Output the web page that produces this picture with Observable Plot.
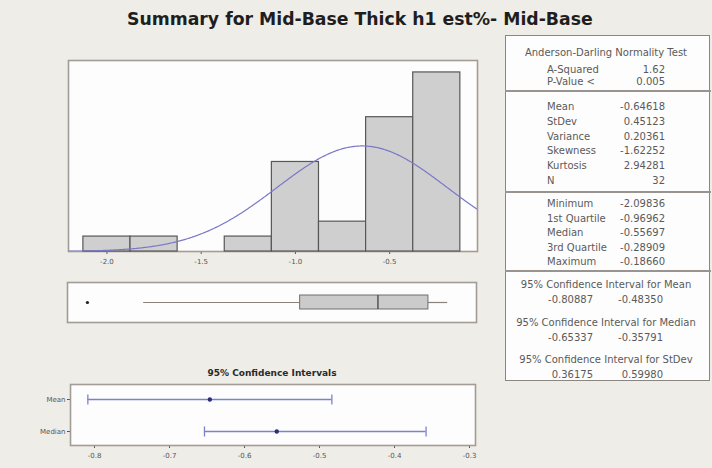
<!DOCTYPE html>
<html>
<head>
<meta charset="utf-8">
<script src="https://cdn.jsdelivr.net/npm/d3@7"></script>
<script src="https://cdn.jsdelivr.net/npm/@observablehq/plot@0.6"></script>
<style>
  html, body { margin: 0; padding: 0; background: #efede7; }
  #page { position: relative; width: 712px; height: 468px; overflow: hidden; background: #efede7; font-family: "DejaVu Sans", Verdana, sans-serif; }
  .abs { position: absolute; white-space: nowrap; }
  .t { position: absolute; white-space: nowrap; font-size: 10px; color: #5a5a5a; line-height: 1; }
  #title { position: absolute; left: 127px; top: 11px; font-weight: bold; font-size: 17px; color: #1e1e1e; white-space: nowrap; line-height: 1; }
  #table { position: absolute; left: 505px; top: 35px; width: 203px; height: 344px; background: #fdfdfd; border: 1.5px solid #8c8682; }
  .div { position: absolute; left: 505px; width: 206px; height: 2px; background: #9a9490; }
  #cititle { position: absolute; font-weight: bold; font-size: 9px; color: #2a2a2a; white-space: nowrap; line-height: 1; }
</style>
</head>
<body>
<div id="page">
  <div id="title">Summary for Mid-Base Thick h1 est%- Mid-Base</div>
  <div id="hist" class="abs" style="left:0;top:40px"></div>
  <div id="box" class="abs" style="left:0;top:276px"></div>
  <div id="cititle">95% Confidence Intervals</div>
  <div id="ci" class="abs" style="left:0;top:376px"></div>
  <div id="table"></div>
</div>
<script>
// ---------- data ----------
const binCenters = [-2.0, -1.75, -1.5, -1.25, -1.0, -0.75, -0.5, -0.25];
const binCounts  = [1, 1, 0, 1, 6, 2, 9, 12];
const binWidth = 0.25;
const meanVal = -0.64618;
const sdVal = 0.45123;
const nVal = 32;

const boxQuartiles = [-0.96962, -0.55697, -0.28909]; // Q1, median, Q3
const boxWhiskers = [-1.80, -0.18660];
const boxOutliers = [-2.09836];

const ciRows = ["Mean", "Median"];
const ciEstimates = [-0.64618, -0.55697];
const ciLower = [-0.80887, -0.65337];
const ciUpper = [-0.48350, -0.35791];

const histTicks = [-2.0, -1.5, -1.0, -0.5];
const ciTicks = [-0.8, -0.7, -0.6, -0.5, -0.4, -0.3];

const adHeader = "Anderson-Darling Normality Test";
const adLabels = ["A-Squared", "P-Value <"];
const adValues = ["1.62", "0.005"];
const momentLabels = ["Mean", "StDev", "Variance", "Skewness", "Kurtosis", "N"];
const momentValues = ["-0.64618", "0.45123", "0.20361", "-1.62252", "2.94281", "32"];
const quantLabels = ["Minimum", "1st Quartile", "Median", "3rd Quartile", "Maximum"];
const quantValues = ["-2.09836", "-0.96962", "-0.55697", "-0.28909", "-0.18660"];
const ciHeaders = ["95% Confidence Interval for Mean", "95% Confidence Interval for Median", "95% Confidence Interval for StDev"];
const ciLoText = ["-0.80887", "-0.65337", "0.36175"];
const ciHiText = ["-0.48350", "-0.35791", "0.59980"];

// ---------- helpers ----------
const fmt1 = d => d.toFixed(1);
const histDomain = [-2.204, -0.034];
const frameStyle = {fill: "#fdfdfd", stroke: "#a39b95", strokeWidth: 1.6};
const axisStyle = {background: "transparent", fontSize: "7px", color: "#555", fontFamily: "DejaVu Sans, sans-serif", overflow: "visible"};

// ---------- histogram ----------
const bins = binCenters.map((c, i) => ({x1: c - binWidth / 2, x2: c + binWidth / 2, count: binCounts[i]})).filter(d => d.count > 0);
const scaleK = nVal * binWidth;
const curve = d3.range(histDomain[0], histDomain[1] + 0.001, 0.005).map(x => ({
  x, y: scaleK * Math.exp(-0.5 * ((x - meanVal) / sdVal) ** 2) / (sdVal * Math.sqrt(2 * Math.PI))
}));

const hist = Plot.plot({
  width: 490, height: 230,
  marginLeft: 68, marginRight: 13, marginTop: 20, marginBottom: 19,
  style: axisStyle,
  x: {domain: histDomain, ticks: histTicks, tickFormat: fmt1, tickSize: 3, tickPadding: 5, label: null},
  y: {domain: [0, 12.8], axis: null},
  marks: [
    Plot.frame(frameStyle),
    Plot.rectY(bins, {x1: "x1", x2: "x2", y: "count", fill: "#cfcfcf", stroke: "#575757", strokeWidth: 1.2}),
    Plot.line(curve, {x: "x", y: "y", stroke: "#7a78c6", strokeWidth: 1.2, clip: true})
  ]
});
document.getElementById("hist").appendChild(hist);

// ---------- boxplot ----------
const box = Plot.plot({
  width: 490, height: 52,
  marginLeft: 67, marginRight: 14, marginTop: 6, marginBottom: 6,
  style: axisStyle,
  x: {domain: histDomain, axis: null},
  y: {domain: [-1, 1], axis: null},
  marks: [
    Plot.frame(frameStyle),
    Plot.ruleY([0], {x1: boxWhiskers[0], x2: boxQuartiles[0], stroke: "#8a817c", strokeWidth: 1.2}),
    Plot.ruleY([0], {x1: boxQuartiles[2], x2: boxWhiskers[1], stroke: "#8a817c", strokeWidth: 1.2}),
    Plot.rect([0], {x1: boxQuartiles[0], x2: boxQuartiles[2], y1: -0.35, y2: 0.35, fill: "#cbcbcb", stroke: "#6e6e6e", strokeWidth: 1}),
    Plot.ruleX([boxQuartiles[1]], {y1: -0.35, y2: 0.35, stroke: "#555", strokeWidth: 1.5}),
    Plot.dot(boxOutliers, {x: d => d, y: 0, r: 1.6, fill: "#222"})
  ]
});
document.getElementById("box").appendChild(box);

// ---------- confidence intervals ----------
const ciData = ciRows.map((r, i) => ({row: r, est: ciEstimates[i], lo: ciLower[i], hi: ciUpper[i]}));
const caps = ciData.flatMap(d => [{row: d.row, v: d.lo}, {row: d.row, v: d.hi}]);
const vbar = {draw(context, size) { const r = Math.sqrt(size / Math.PI); context.moveTo(0, -r); context.lineTo(0, r); }};

const ci = Plot.plot({
  width: 490, height: 92,
  marginLeft: 70, marginRight: 15, marginTop: 8, marginBottom: 23,
  style: axisStyle,
  x: {domain: [-0.832, -0.292], ticks: ciTicks, tickFormat: fmt1, tickSize: 3, tickPadding: 5, label: null},
  y: {type: "point", domain: ciRows, padding: 0.45, tickSize: 3, tickPadding: 2, label: null},
  marks: [
    Plot.frame(frameStyle),
    Plot.ruleY(ciData, {y: "row", x1: "lo", x2: "hi", stroke: "#7f7fd2", strokeWidth: 1.3}),
    Plot.dot(caps, {x: "v", y: "row", symbol: vbar, r: 5, stroke: "#7f7fd2", fill: "none", strokeWidth: 1.3}),
    Plot.dot(ciData, {x: "est", y: "row", r: 2.2, fill: "#2e2e78"})
  ]
});
document.getElementById("ci").appendChild(ci);

// ---------- stats table ----------
const page = document.getElementById("page");
function txt(x, y, s, anchor) {
  const el = document.createElement("div");
  el.className = "t";
  el.textContent = s;
  el.style.left = x + "px";
  el.style.top = y + "px";
  const tx = anchor === "end" ? "-100%" : anchor === "middle" ? "-50%" : "0";
  el.style.transform = `translate(${tx}, -50%)`;
  page.appendChild(el);
}
function divider(y) {
  const el = document.createElement("div");
  el.className = "div";
  el.style.top = (y - 1) + "px";
  page.appendChild(el);
}
const labX = 547, valX = 665, midX = 606;
txt(midX, 53, adHeader, "middle");
adLabels.forEach((l, i) => { txt(labX, 70 + i * 12.3, l); txt(valX, 70 + i * 12.3, adValues[i], "end"); });
divider(91);
momentLabels.forEach((l, i) => { txt(labX, 107.3 + i * 14.7, l); txt(valX, 107.3 + i * 14.7, momentValues[i], "end"); });
divider(191.5);
quantLabels.forEach((l, i) => { txt(labX, 204 + i * 14.6, l); txt(valX, 204 + i * 14.6, quantValues[i], "end"); });
divider(270.5);
ciHeaders.forEach((h, i) => {
  const y0 = 285 + i * 37.5;
  txt(midX, y0, h, "middle");
  txt(593, y0 + 15.3, ciLoText[i], "end");
  txt(663, y0 + 15.3, ciHiText[i], "end");
});

// ---------- titles ----------
const title = document.getElementById("title");
const tw = title.getBoundingClientRect().width;
title.style.fontSize = (17 * 466 / tw) + "px";
const ct = document.getElementById("cititle");
const cw = ct.getBoundingClientRect().width;
ct.style.left = (272 - cw / 2) + "px";
ct.style.top = "369px";
</script>
</body>
</html>
